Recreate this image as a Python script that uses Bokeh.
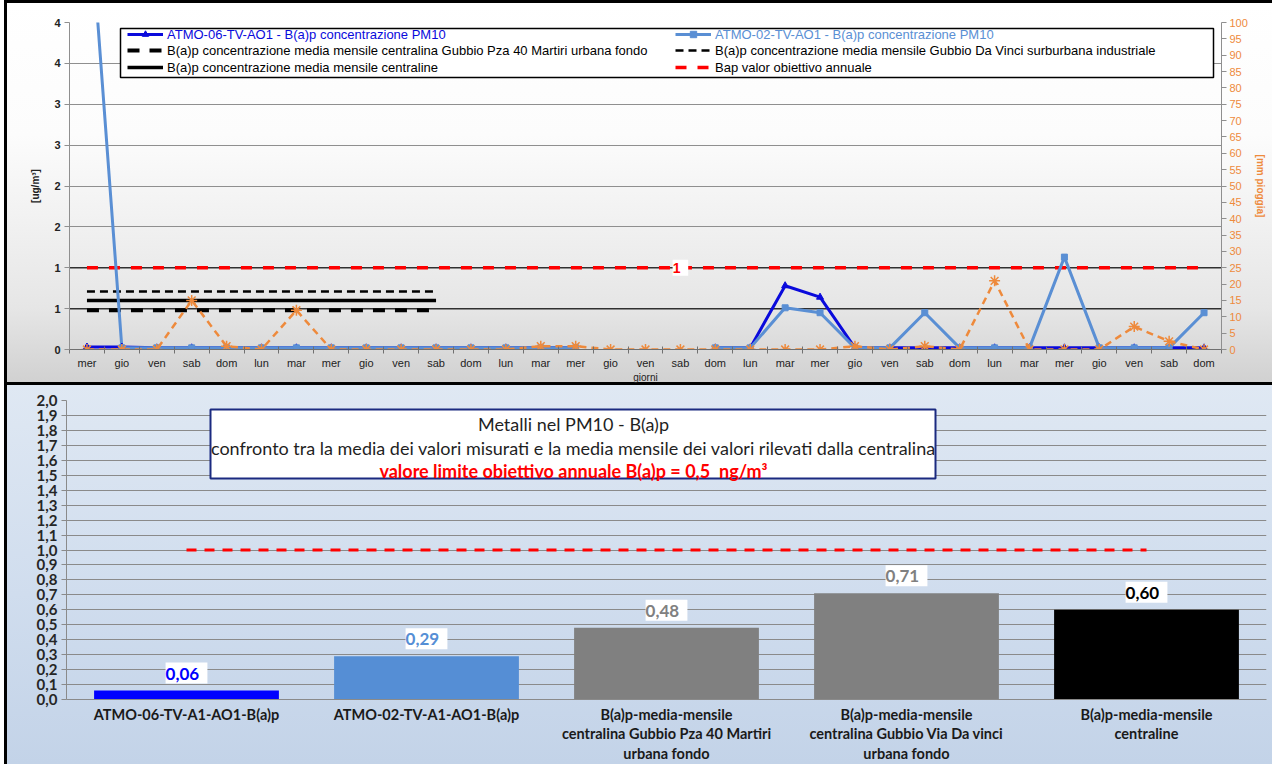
import math
from bokeh.plotting import figure
from bokeh.models import (Range1d, LinearAxis, FixedTicker, SingleIntervalTicker, CustomJSTickFormatter,
                          Legend, LegendItem, BoxAnnotation, Label, LabelSet, ColumnDataSource, Span,
                          FactorRange)
from bokeh.layouts import column
from bokeh.embed import file_html
from bokeh.resources import INLINE
from bokeh.core.properties import value, field

nan = float("nan")

# ---------------- data: top chart ----------------
days = ["mer", "gio", "ven", "sab", "dom", "lun", "mar",
        "mer", "gio", "ven", "sab", "dom", "lun", "mar",
        "mer", "gio", "ven", "sab", "dom", "lun", "mar",
        "mer", "gio", "ven", "sab", "dom", "lun", "mar",
        "mer", "gio", "ven", "sab", "dom"]

atmo06 = [0.03, 0.03, 0.02, 0.02, 0.02, 0.02, 0.02,
          0.02, 0.02, 0.02, 0.02, 0.02, 0.02, 0.02,
          0.02, nan, nan, nan, 0.02, 0.02, 0.78,
          0.64, 0.02, 0.02, 0.02, 0.02, 0.02, 0.02,
          0.02, 0.02, 0.02, 0.02, 0.02]

atmo02 = [5.8, 0.02, 0.02, 0.02, 0.02, 0.02, 0.02,
          0.02, 0.02, 0.02, 0.02, 0.02, 0.02, 0.02,
          0.02, nan, nan, nan, 0.02, 0.02, 0.51,
          0.45, 0.02, 0.02, 0.45, 0.02, 0.02, 0.02,
          1.13, 0.02, 0.02, 0.02, 0.45]

rain_mm = [0, 0, 0, 15, 1, 0, 12,
           0, 0, 0, 0, 0, 0, 1,
           1, 0, 0, 0, 0, 0, 0,
           0, 1, 0, 1, 0, 21, 0,
           0, 0, 7, 2.5, 0]

media_pza_40_martiri = 0.48
media_da_vinci = 0.71
media_centraline = 0.60
objective = 1.0
mean_period_days = 11          # the monthly means are drawn over the first 11 days
objective_label_day = 17       # day where the objective's data label sits
dark_grid = [0.5, 1.0]

lab_atmo06 = "ATMO-06-TV-AO1 - B(a)p concentrazione PM10"
lab_atmo02 = "ATMO-02-TV-AO1 - B(a)p concentrazione PM10"
lab_pza = "B(a)p concentrazione media mensile centralina Gubbio Pza 40 Martiri urbana fondo"
lab_dv = "B(a)p concentrazione media mensile Gubbio Da Vinci surburbana industriale"
lab_cen = "B(a)p concentrazione media mensile centraline"
lab_obj = "Bap valor obiettivo annuale"

# ---------------- data: bottom chart ----------------
bar_categories = ["ATMO-06-TV-A1-AO1-B(a)p",
                  "ATMO-02-TV-A1-AO1-B(a)p",
                  "B(a)p-media-mensile\ncentralina Gubbio Pza 40 Martiri\nurbana fondo",
                  "B(a)p-media-mensile\ncentralina Gubbio Via Da vinci\nurbana fondo",
                  "B(a)p-media-mensile\ncentraline"]
bar_values = [0.06, 0.29, 0.48, 0.71, 0.60]
bar_colors = ["#0000FF", "#558ED5", "#808080", "#808080", "#000000"]

title_lines = ["Metalli nel PM10 - B(a)p",
               "confronto tra la media dei valori misurati e la media mensile dei valori rilevati dalla centralina",
               "valore limite obiettivo annuale B(a)p = 0,5\u00a0\u00a0ng/m³"]

# ---------------- styles ----------------
W = 1272
H1 = 385
H2 = 379
DARK_BLUE = "#0A0ADC"
LIGHT_BLUE = "#5A8FD4"
ORANGE = "#EE8A3C"
RED = "#FF0000"
ARIAL = "Liberation Sans"
CAL = "Lato"

x_idx = list(range(len(days)))

# =============== TOP CHART ===============
p1 = figure(width=W, height=H1, output_backend="svg", toolbar_location=None,
            x_range=Range1d(-0.5, len(days) - 0.5), y_range=Range1d(0, 4),
            min_border_left=69, min_border_right=51, min_border_top=22, min_border_bottom=35,
            background_fill_color=None, border_fill_color=None, outline_line_color=None)
p1.frame_align = False
p1.styles = {
    "background": "linear-gradient(to bottom, #ffffff 0%, #fcfcfc 35%, #e6e6e6 80%, #d0d0d0 100%)",
    "box-shadow": "inset 4px 0 0 #ffffff, inset 7px 0 0 #000000, inset 0 3px 0 #000000, inset 0 -3px 0 #000000",
}
p1.extra_y_ranges = {"rain": Range1d(0, 100)}

p1.xgrid.grid_line_color = None
p1.ygrid.grid_line_color = "#8f8f8f"
p1.ygrid.grid_line_width = 1

yl = p1.yaxis[0]
yl.ticker = SingleIntervalTicker(interval=0.5, num_minor_ticks=0)
p1.ygrid.ticker = yl.ticker
yl.formatter = CustomJSTickFormatter(code="return Math.round(tick).toString();")
yl.axis_label = "[ug/m³]"
yl.axis_label_text_font = ARIAL
yl.axis_label_text_font_size = "10px"
yl.axis_label_text_font_style = "bold"
yl.axis_label_text_color = "#222222"
yl.axis_label_standoff = 10
yl.major_label_text_font = ARIAL
yl.major_label_text_font_size = "11px"
yl.major_label_text_font_style = "bold"
yl.major_label_text_color = "#222222"
yl.major_label_standoff = 4
yl.axis_line_color = "#8f8f8f"
yl.major_tick_line_color = "#8f8f8f"
yl.major_tick_out = 5
yl.major_tick_in = 0
yl.minor_tick_line_color = None

ra = LinearAxis(y_range_name="rain", ticker=SingleIntervalTicker(interval=5, num_minor_ticks=0),
                axis_label="[mm pioggia]")
ra.axis_label_text_font = ARIAL
ra.axis_label_text_font_size = "10px"
ra.axis_label_text_font_style = "bold"
ra.axis_label_text_color = ORANGE
ra.axis_label_standoff = 4
ra.major_label_text_font = ARIAL
ra.major_label_text_font_size = "11px"
ra.major_label_text_color = ORANGE
ra.major_label_standoff = 3
ra.axis_line_color = "#8f8f8f"
ra.major_tick_line_color = "#8f8f8f"
ra.major_tick_out = 5
ra.major_tick_in = 0
ra.minor_tick_line_color = None
p1.add_layout(ra, "right")

xa = p1.xaxis[0]
xa.ticker = FixedTicker(ticks=x_idx, minor_ticks=[i - 0.5 for i in range(len(days) + 1)])
xa.major_label_overrides = {i: d for i, d in enumerate(days)}
xa.major_tick_line_color = None
xa.major_tick_out = 0
xa.major_tick_in = 0
xa.minor_tick_line_color = "#707070"
xa.minor_tick_out = 4
xa.minor_tick_in = 3
xa.axis_line_color = "#707070"
xa.major_label_text_font = ARIAL
xa.major_label_text_font_size = "11px"
xa.major_label_text_color = "#222222"
xa.major_label_standoff = 3
xa.axis_label = "giorni"
xa.axis_label_text_font = ARIAL
xa.axis_label_text_font_size = "10px"
xa.axis_label_text_font_style = "normal"
xa.axis_label_text_color = "#222222"
xa.axis_label_standoff = 0

for yv in dark_grid:
    p1.add_layout(Span(location=yv, dimension="width", line_color="#303030", line_width=1.5, level="underlay"))

mx = x_idx[:mean_period_days]
r_pza = p1.line(mx, [media_pza_40_martiri] * len(mx), line_color="black", line_width=4, line_dash="12 10")
r_dv = p1.line(mx, [media_da_vinci] * len(mx), line_color="black", line_width=2.5, line_dash="8 5")
r_cen = p1.line(mx, [media_centraline] * len(mx), line_color="black", line_width=3.5)
r_obj = p1.line(x_idx, [objective] * len(x_idx), line_color=RED, line_width=3.5, line_dash="11 11")

r06_l = p1.line(x_idx, atmo06, line_color=DARK_BLUE, line_width=3)
r02_l = p1.line(x_idx, atmo02, line_color=LIGHT_BLUE, line_width=3)
r06_m = p1.scatter(x_idx, atmo06, marker="triangle", size=7, fill_color=DARK_BLUE, line_color=DARK_BLUE)
r02_m = p1.scatter(x_idx, atmo02, marker="square", size=6, fill_color=LIGHT_BLUE, line_color=LIGHT_BLUE)

p1.line(x_idx, rain_mm, y_range_name="rain", line_color=ORANGE, line_width=2.5, line_dash="7 5")
p1.scatter(x_idx, rain_mm, y_range_name="rain", marker="asterisk", size=11, line_color=ORANGE, line_width=1.5)

obj_src = ColumnDataSource(dict(x=[x_idx[objective_label_day]], y=[objective], t=[f" {objective:g} "]))
p1.add_layout(LabelSet(x="x", y="y", text="t", source=obj_src, text_align="center", text_baseline="middle",
                       text_font=value(ARIAL), text_font_size="14px", text_font_style="bold",
                       text_color=RED, background_fill_color="white", background_fill_alpha=1))

# legend frame
p1.add_layout(BoxAnnotation(left=120, right=1213, top=28, bottom=77,
                            left_units="canvas", right_units="canvas", top_units="canvas", bottom_units="canvas",
                            fill_color="white", fill_alpha=1, line_color="black", line_width=1.5, line_alpha=1))


def mk_legend(items, loc, color):
    lg = Legend(items=items, location=loc, orientation="vertical", padding=0, margin=0, spacing=1,
                border_line_color=None, background_fill_color=None,
                glyph_width=36, glyph_height=16, label_height=16, label_standoff=4,
                label_text_font=ARIAL, label_text_font_size="13px", label_text_color=color)
    p1.add_layout(lg, "center")


mk_legend([LegendItem(label=lab_atmo06, renderers=[r06_l, r06_m])], (58, 307), DARK_BLUE)
mk_legend([LegendItem(label=lab_pza, renderers=[r_pza]), LegendItem(label=lab_cen, renderers=[r_cen])],
          (58, 274), "black")
mk_legend([LegendItem(label=lab_atmo02, renderers=[r02_l, r02_m])], (606, 307), LIGHT_BLUE)
mk_legend([LegendItem(label=lab_dv, renderers=[r_dv]), LegendItem(label=lab_obj, renderers=[r_obj])],
          (606, 274), "black")

# =============== BOTTOM CHART ===============
p2 = figure(width=W, height=H2, output_backend="svg", toolbar_location=None,
            x_range=FactorRange(factors=bar_categories), y_range=Range1d(0, 2.0),
            min_border_left=66, min_border_right=6, min_border_top=15, min_border_bottom=40,
            background_fill_color=None, border_fill_color=None, outline_line_color=None)
p2.frame_align = False
p2.styles = {
    "background": "linear-gradient(to bottom, #dfe8f3 0%, #d0ddee 55%, #c3d3e8 100%)",
    "box-shadow": "inset 4px 0 0 #ffffff, inset 7px 0 0 #000000",
}

p2.xgrid.grid_line_color = None
p2.ygrid.grid_line_color = "#8a8a8a"
p2.ygrid.grid_line_width = 1

by = p2.yaxis[0]
by.ticker = SingleIntervalTicker(interval=0.1, num_minor_ticks=0)
p2.ygrid.ticker = by.ticker
by.formatter = CustomJSTickFormatter(code="return tick.toFixed(1).replace('.', ',');")
by.major_label_text_font = CAL
by.major_label_text_font_size = "15px"
by.major_label_text_font_style = "bold"
by.major_label_text_color = "#262626"
by.major_label_standoff = 4
by.axis_line_color = "#8a8a8a"
by.major_tick_line_color = "#8a8a8a"
by.major_tick_out = 5
by.major_tick_in = 0
by.minor_tick_line_color = None

bx = p2.xaxis[0]
bx.axis_line_color = "#8a8a8a"
bx.major_tick_line_color = None
bx.major_tick_out = 0
bx.major_tick_in = 0
bx.major_label_text_font = CAL
bx.major_label_text_font_size = "14.5px"
bx.major_label_text_font_style = "bold"
bx.major_label_text_color = "#1a1a1a"
bx.major_label_text_line_height = 1.15
bx.major_label_standoff = 6

bar_src = ColumnDataSource(dict(cat=bar_categories, val=bar_values, col=bar_colors,
                                lbl=[" " + f"{v:.2f}".replace(".", ",") + " " for v in bar_values]))
p2.vbar(x="cat", top="val", width=0.77, fill_color=field("col"), line_color=None, source=bar_src)
p2.line(bar_categories, [objective] * len(bar_categories), line_color=RED, line_width=3, line_dash="10 8")

p2.add_layout(LabelSet(x="cat", y="val", text="lbl", source=bar_src, y_offset=7,
                       text_align="center", text_baseline="bottom",
                       text_font=value(CAL), text_font_size="17px", text_font_style="bold",
                       text_color=field("col"), background_fill_color="white", background_fill_alpha=1))

# title box
p2.add_layout(BoxAnnotation(left=210, right=935, top=24, bottom=93,
                            left_units="canvas", right_units="canvas", top_units="canvas", bottom_units="canvas",
                            fill_color="white", fill_alpha=1, line_color="#1B2A80", line_width=2, line_alpha=1))
title_colors = ["#1f1f1f", "#1f1f1f", RED]
title_styles = ["normal", "normal", "bold"]
title_offsets = [38, 62, 85]   # distance of each title line below the canvas top
for txt, c, s, off in zip(title_lines, title_colors, title_styles, title_offsets):
    p2.add_layout(Label(x=573, y=off, x_units="canvas", y_units="canvas", text=txt,
                        text_align="center", text_baseline="middle", text_font=CAL,
                        text_font_size="18px", text_font_style=s, text_color=c))

layout = column(p1, p2)
open("out.html", "w").write(file_html(layout, INLINE))
